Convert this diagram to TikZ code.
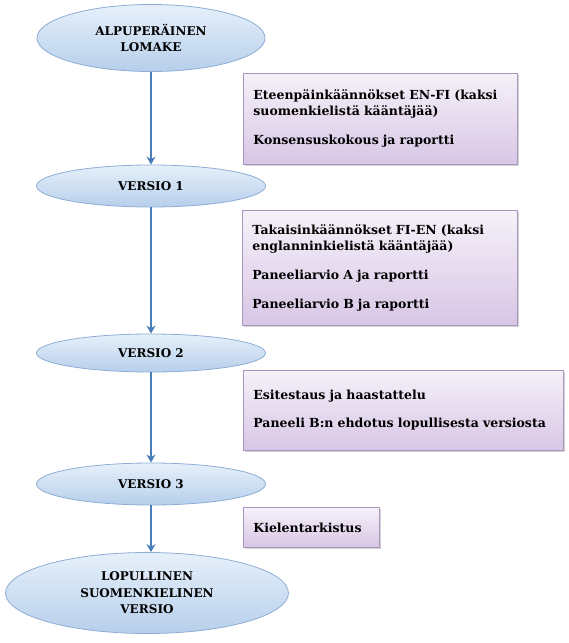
\documentclass[tikz,border=0pt]{standalone}
\usepackage{fontspec}
\setmainfont{DejaVu Serif}
\usetikzlibrary{shapes.geometric,arrows.meta,shadows}
\definecolor{ovalline}{HTML}{8DADD5}
\definecolor{ovaltop}{HTML}{E6F0FA}
\definecolor{ovalbot}{HTML}{B7CFEB}
\definecolor{arrowblue}{HTML}{4A7EBB}
\definecolor{boxline}{HTML}{A797BF}
\definecolor{boxtop}{HTML}{F6F1F9}
\definecolor{boxbot}{HTML}{D7C6E5}
\begin{document}
\begin{tikzpicture}[x=1pt, y=-1pt,
    version/.style={ellipse, draw=ovalline, line width=0.8pt, top color=ovaltop, bottom color=ovalbot,
        font=\bfseries\fontsize{12}{16.5}\selectfont, align=center, inner sep=0pt},
    stepbox/.style={rectangle, draw=boxline, line width=0.8pt, top color=boxtop, bottom color=boxbot,
        drop shadow={shadow xshift=1.2pt, shadow yshift=-1.5pt, opacity=0.35},
        font=\bfseries\fontsize{12.5}{16}\selectfont, align=left, anchor=north west,
        inner xsep=10pt, inner ysep=0pt},
    flow/.style={draw=arrowblue, line width=2pt, -{Stealth[length=8pt, width=9pt]}}]
    \useasboundingbox (0,0) rectangle (568,643);

    % versions
    \node[version, minimum width=228, minimum height=67] (orig) at (151,38) {ALPUPERÄINEN\\LOMAKE};
    \node[version, minimum width=229, minimum height=42] (v1) at (151,186) {VERSIO 1};
    \node[version, minimum width=229, minimum height=38] (v2) at (151,353) {VERSIO 2};
    \node[version, minimum width=229, minimum height=42] (v3) at (151,484) {VERSIO 3};
    \node[version, minimum width=283, minimum height=81] (final) at (147,593) {LOPULLINEN\\SUOMENKIELINEN\\VERSIO};

    % steps
    \node[stepbox, text width=254, minimum height=91] (fwd) at (243,73)
        {Eteenpäinkäännökset EN-FI (kaksi\\suomenkielistä kääntäjää)\\[13pt]Konsensuskokous ja raportti};
    \node[stepbox, text width=255, minimum height=115] (back) at (242,210)
        {Takaisinkäännökset FI-EN (kaksi\\englanninkielistä kääntäjää)\\[13pt]Paneeliarvio A ja raportti\\[13pt]Paneeliarvio B ja raportti};
    \node[stepbox, text width=300, minimum height=80] (test) at (243,370)
        {Esitestaus ja haastattelu\\[12pt]Paneeli B:n ehdotus lopullisesta versiosta};
    \node[stepbox, text width=116, minimum height=40] (lang) at (243,507) {Kielentarkistus};

    % arrows
    \draw[flow] (orig) -- (v1);
    \draw[flow] (v1) -- (v2);
    \draw[flow] (v2) -- (v3);
    \draw[flow] (v3) -- (v3 |- final.north);
\end{tikzpicture}
\end{document}
